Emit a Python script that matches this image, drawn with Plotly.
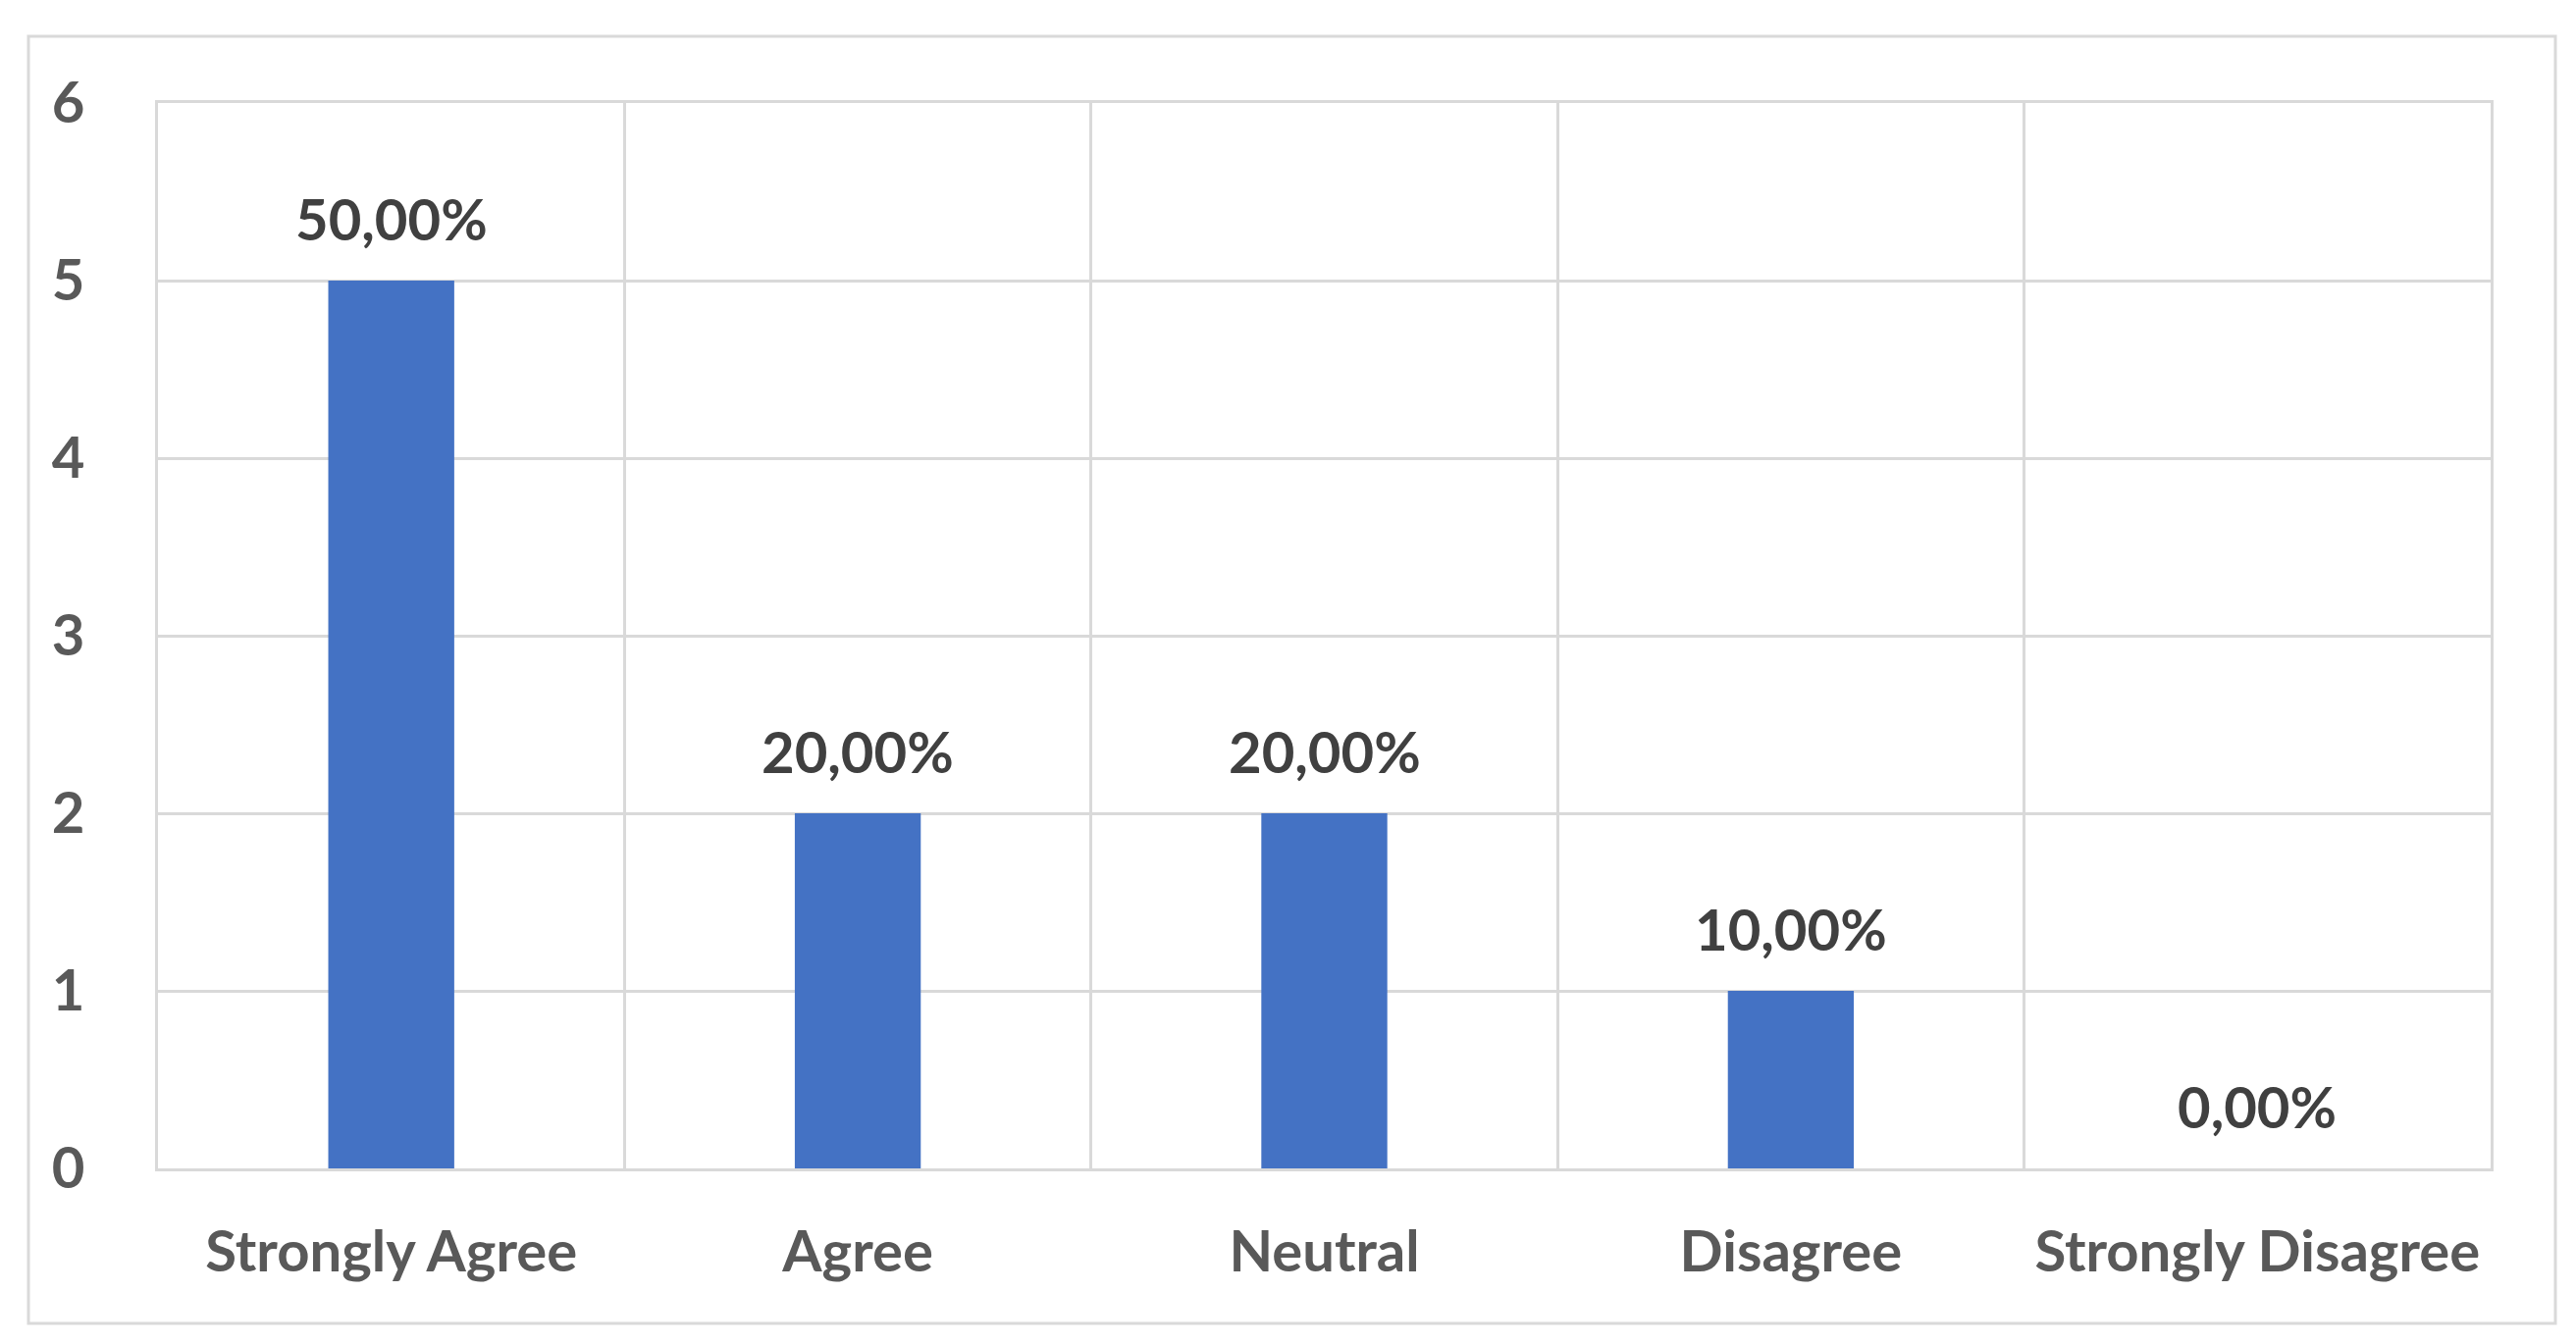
import plotly.graph_objects as go

categories = ["Strongly Agree", "Agree", "Neutral", "Disagree", "Strongly Disagree"]
counts = [5, 2, 2, 1, 0]
pct_labels = ["50,00%", "20,00%", "20,00%", "10,00%", "0,00%"]
y_ticks = [0, 1, 2, 3, 4, 5, 6]

W, H = 2625, 1370
ML, MR, MT, MB = 153, 95, 97, 187
pw, ph = W - ML - MR, H - MT - MB

FONT = "Lato, Carlito, Calibri, sans-serif"
GRID = "#d9d9d9"
FS = 58

fig = go.Figure(go.Bar(
    x=categories, y=counts,
    marker=dict(color="#4472C4", line=dict(width=0)),
    width=0.27,
    hoverinfo="skip",
))

for c, v, t in zip(categories, counts, pct_labels):
    fig.add_annotation(x=c, y=v, text=f"<b>{t}</b>", showarrow=False,
                       yanchor="middle", yshift=64,
                       font=dict(family=FONT, size=FS, color="#404040"))

# outer chart border
fig.add_shape(type="rect", xref="paper", yref="paper",
              x0=(21 - ML) / pw, x1=(2596 - ML) / pw,
              y0=(MT + ph - 1341) / ph, y1=(MT + ph - 29) / ph,
              line=dict(color=GRID, width=3), fillcolor="rgba(0,0,0,0)", layer="below")

fig.update_layout(
    width=W, height=H,
    margin=dict(l=ML, r=MR, t=MT, b=MB, pad=0),
    paper_bgcolor="white", plot_bgcolor="white",
    showlegend=False,
    bargap=0.73,
    font=dict(family=FONT, size=FS, color="#595959"),
    xaxis=dict(
        type="category", tickson="boundaries",
        showgrid=True, gridcolor=GRID, gridwidth=3,
        showline=True, linecolor=GRID, linewidth=3, mirror=True,
        ticks="", ticklabelstandoff=32,
        tickfont=dict(family=FONT, size=FS, color="#595959", weight="bold"),
        zeroline=False, fixedrange=True,
    ),
    yaxis=dict(
        range=[0, 6], tickvals=y_ticks, ticktext=[str(v) for v in y_ticks],
        showgrid=True, gridcolor=GRID, gridwidth=3,
        showline=True, linecolor=GRID, linewidth=3, mirror=True,
        ticks="", ticklabelstandoff=60,
        tickfont=dict(family=FONT, size=FS, color="#595959", weight="bold"),
        zeroline=False, fixedrange=True,
    ),
)

fig.write_html("out.html")
